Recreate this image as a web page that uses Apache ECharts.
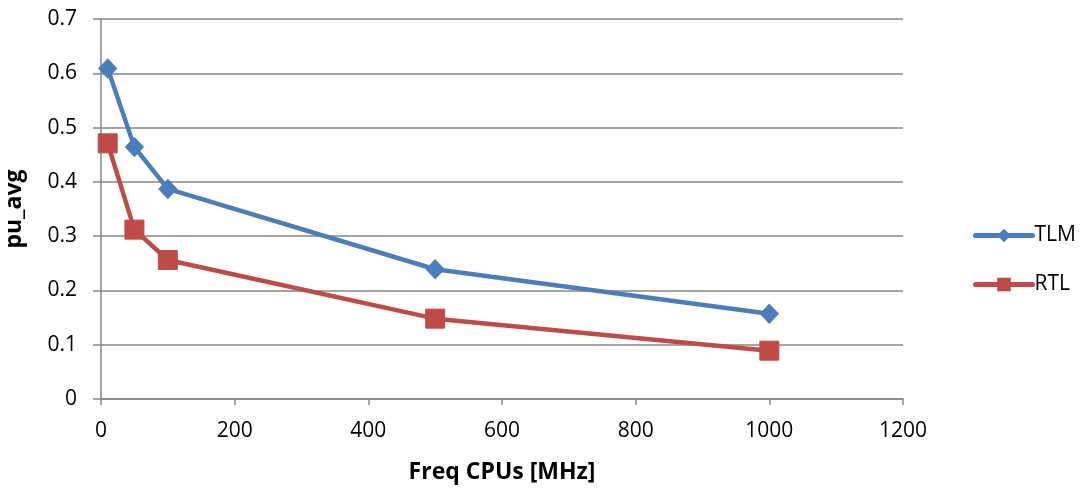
<!DOCTYPE html>
<html>
<head>
<meta charset="utf-8">
<script src="https://cdn.jsdelivr.net/npm/echarts@6/dist/echarts.min.js"></script>
<style>
html,body{margin:0;padding:0;background:#fff;}
#chart{width:1084px;height:488px;}
</style>
</head>
<body>
<div id="chart"></div>
<script>
// CPU frequency (MHz) and average utilisation per model
const freqMHz = [10, 50, 100, 500, 1000];
const tlmValues = [0.609, 0.464, 0.387, 0.239, 0.157];
const rtlValues = [0.471, 0.312, 0.256, 0.148, 0.089];
const seriesNames = ['TLM', 'RTL'];
const xAxisTitle = 'Freq CPUs [MHz]';
const yAxisTitle = 'pu_avg';

const FONT = '"Open Sans", "Liberation Sans", sans-serif';
const gridColor = '#868686';
const blue = '#4a7ebb';
const red = '#be4b48';

const chart = echarts.init(document.getElementById('chart'), null, {renderer: 'canvas'});

const pairs = vals => freqMHz.map((f, i) => [f, vals[i]]);

chart.setOption({
  animation: false,
  backgroundColor: '#ffffff',
  grid: {left: 101, right: 181, top: 19, bottom: 89, containLabel: false, outerBoundsMode: 'none'},
  legend: {
    orient: 'vertical',
    left: 968,
    top: 220,
    itemWidth: 57,
    itemHeight: 17,
    itemGap: 28,
    textStyle: {fontFamily: FONT, fontSize: 21, color: '#000', padding: [0, 0, 0, -3]},
    data: [
      {name: seriesNames[0], itemStyle: {color: blue}, lineStyle: {width: 5, cap: 'round'}},
      {name: seriesNames[1], itemStyle: {color: red}, lineStyle: {width: 5, cap: 'round'}}
    ]
  },
  xAxis: {
    type: 'value',
    min: 0, max: 1200, interval: 200,
    name: xAxisTitle,
    nameLocation: 'middle',
    nameGap: 62,
    nameTextStyle: {fontFamily: FONT, fontSize: 23, fontWeight: 'bold', color: '#000'},
    axisLine: {show: true, lineStyle: {color: gridColor, width: 1.5}},
    axisTick: {show: true, length: 6, lineStyle: {color: gridColor, width: 1.5}},
    axisLabel: {fontFamily: FONT, fontSize: 21, color: '#000', margin: 22, formatter: v => String(v)},
    splitLine: {show: false}
  },
  yAxis: {
    type: 'value',
    min: 0, max: 0.7, interval: 0.1,
    name: yAxisTitle,
    nameLocation: 'middle',
    nameGap: 75,
    nameRotate: 90,
    nameTextStyle: {fontFamily: FONT, fontSize: 23, fontWeight: 'bold', color: '#000'},
    axisLine: {show: true, lineStyle: {color: gridColor, width: 1.5}},
    axisTick: {show: true, inside: false, length: 8, lineStyle: {color: gridColor, width: 1.5}},
    axisLabel: {fontFamily: FONT, fontSize: 21, color: '#000', margin: 24},
    splitLine: {show: true, lineStyle: {color: gridColor, width: 1.5}}
  },
  series: [
    {
      name: seriesNames[0],
      type: 'line',
      data: pairs(tlmValues),
      symbol: 'diamond',
      symbolSize: [18, 19],
      showAllSymbol: true,
      lineStyle: {color: blue, width: 4.5},
      itemStyle: {color: blue, borderColor: blue}
    },
    {
      name: seriesNames[1],
      type: 'line',
      data: pairs(rtlValues),
      symbol: 'rect',
      symbolSize: 19,
      showAllSymbol: true,
      lineStyle: {color: red, width: 4.5},
      itemStyle: {color: red, borderColor: red}
    }
  ]
});
</script>
</body>
</html>
